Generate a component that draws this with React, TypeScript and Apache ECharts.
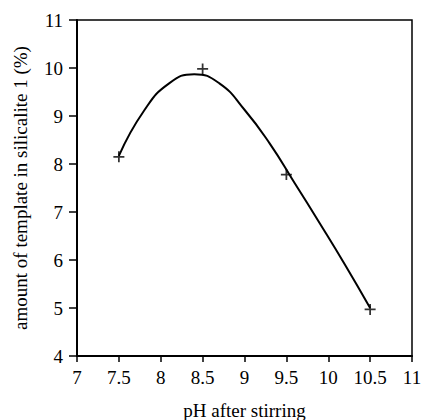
import React, { useEffect, useRef } from "react";
import * as echarts from "echarts";

const measuredPH = [7.5, 8.5, 9.5, 10.5];
const measuredTemplate = [8.15, 9.98, 7.78, 4.97];

const curvePH = [7.5, 7.8, 8.1, 8.4, 8.7, 9.0, 9.3, 9.6, 9.9, 10.2, 10.5];
const curveTemplate = [8.17, 9.11, 9.68, 9.87, 9.68, 9.13, 8.43, 7.6, 6.76, 5.9, 5.0];

const xTitle = "pH after stirring";
const yTitle = "amount of template in silicalite 1 (%)";

const FONT = "Liberation Serif";

export default function App() {
  const ref = useRef<HTMLDivElement>(null);
  useEffect(() => {
    if (!ref.current) return;
    const chart = echarts.init(ref.current, undefined, { renderer: "svg" });
    const axisText = { color: "#000", fontFamily: FONT, fontSize: 19 };
    chart.setOption({
      animation: false,
      backgroundColor: "#fff",
      grid: {
        left: 77,
        right: 13,
        top: 20,
        bottom: 64,
        outerBoundsMode: "none",
        containLabel: false,
        show: true,
        borderColor: "#000",
        borderWidth: 1.5,
        backgroundColor: "transparent",
      },
      xAxis: {
        type: "value",
        min: 7,
        max: 11,
        interval: 0.5,
        name: xTitle,
        nameLocation: "middle",
        nameGap: 45,
        nameTextStyle: { ...axisText },
        axisLine: { show: true, lineStyle: { color: "#000", width: 2 } },
        axisTick: { show: true, length: 6, lineStyle: { color: "#000", width: 1.5 } },
        axisLabel: { ...axisText, margin: 12 },
        splitLine: { show: false },
      },
      yAxis: {
        type: "value",
        min: 4,
        max: 11,
        interval: 1,
        name: yTitle,
        nameLocation: "middle",
        nameGap: 47,
        nameTextStyle: { ...axisText },
        axisLine: { show: true, lineStyle: { color: "#000", width: 2 } },
        axisTick: { show: true, length: 8, lineStyle: { color: "#000", width: 1.5 } },
        axisLabel: { ...axisText, margin: 14 },
        splitLine: { show: false },
      },
      series: [
        {
          type: "line",
          data: curvePH.map((x, i) => [x, curveTemplate[i]]),
          smooth: 0.5,
          showSymbol: false,
          symbol: "none",
          lineStyle: { color: "#000", width: 2 },
          silent: true,
        },
        {
          type: "scatter",
          data: measuredPH.map((x, i) => [x, measuredTemplate[i]]),
          symbol: "path://M0,4.2H4.2V0H5.8V4.2H10V5.8H5.8V10H4.2V5.8H0Z",
          symbolSize: 11,
          itemStyle: { color: "#000" },
        },
      ],
    });
    return () => chart.dispose();
  }, []);
  return <div ref={ref} style={{ width: 425, height: 420, position: "absolute", left: 0, top: 0 }} />;
}
